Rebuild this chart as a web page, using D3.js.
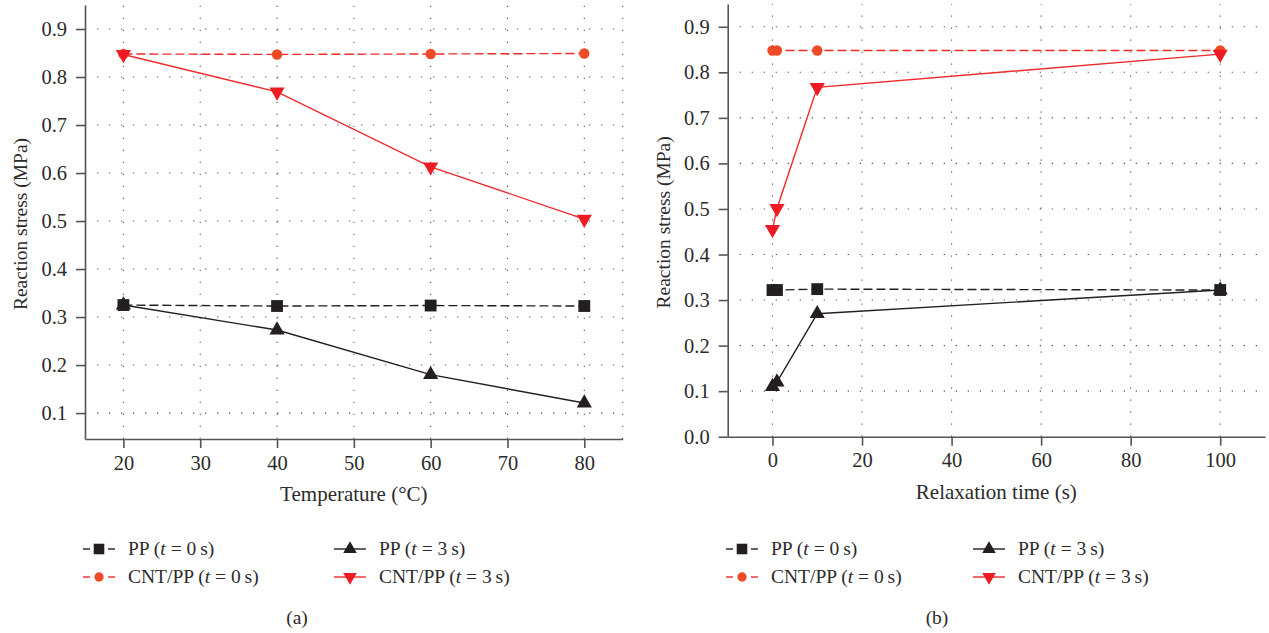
<!DOCTYPE html>
<html>
<head>
<meta charset="utf-8">
<script src="https://cdn.jsdelivr.net/npm/d3@7"></script>
<style>
  html, body { margin: 0; padding: 0; background: #fff; }
  svg { display: block; }
</style>
</head>
<body>
<svg id="chart" width="1269" height="633"></svg>
<script>
// Panel (a): reaction stress vs temperature
const tempC = [20, 40, 60, 80];
const aPP0 = [0.325, 0.323, 0.324, 0.323];
const aPP3 = [0.325, 0.273, 0.180, 0.121];
const aCNT0 = [0.848, 0.847, 0.848, 0.849];
const aCNT3 = [0.847, 0.769, 0.613, 0.504];
const aXTicks = [20, 30, 40, 50, 60, 70, 80];
const aYTicks = [0.1, 0.2, 0.3, 0.4, 0.5, 0.6, 0.7, 0.8, 0.9];

// Panel (b): reaction stress vs relaxation time
const relaxTime = [0, 1, 10, 100];
const bPP0 = [0.322, 0.322, 0.324, 0.322];
const bPP3 = [0.110, 0.120, 0.270, 0.322];
const bCNT0 = [0.848, 0.848, 0.848, 0.848];
const bCNT3 = [0.455, 0.501, 0.767, 0.840];
const bXTicks = [0, 20, 40, 60, 80, 100];
const bYTicks = [0.0, 0.1, 0.2, 0.3, 0.4, 0.5, 0.6, 0.7, 0.8, 0.9];

const seriesNames = ["PP", "PP", "CNT/PP", "CNT/PP"];
const seriesTimes = ["0", "3", "0", "3"];

const FONT = "'Liberation Serif', 'Times New Roman', serif";
const INK = "#2b2b2b";
const BLACK = "#231f20";
const RED = "#ee2a2b";
const ORANGE = "#ef4a26";

const svg = d3.select("#chart");

function styles() {
  return [
    { stroke: BLACK, dash: "9,4", symbol: d3.symbolSquare, size: 140, fill: BLACK },
    { stroke: BLACK, dash: null, symbol: d3.symbolTriangle, size: 100, fill: BLACK },
    { stroke: RED, dash: "9,4", symbol: d3.symbolCircle, size: 85, fill: ORANGE },
    { stroke: RED, dash: null, symbol: d3.symbolTriangle, size: 100, fill: "#ed1c24", flip: true }
  ];
}

function label(sel, size) {
  return sel.style("font-family", FONT).style("font-size", (size || 19) + "px").style("fill", INK);
}

function drawPanel(cfg) {
  const g = svg.append("g");
  const x = d3.scaleLinear().domain(cfg.xDomain).range([cfg.left, cfg.right]);
  const y = d3.scaleLinear().domain(cfg.yDomain).range([cfg.bottom, cfg.top]);

  // dotted grid
  const grid = g.append("g").attr("stroke", "#555").attr("stroke-width", 1.1)
    .attr("stroke-dasharray", "1.3,10.7");
  grid.selectAll(".h").data(cfg.yTicks.filter(v => v > cfg.yDomain[0])).join("line")
    .attr("x1", cfg.left).attr("x2", cfg.gridRight)
    .attr("y1", d => y(d)).attr("y2", d => y(d));
  const vLines = cfg.xTicks.slice();
  if (cfg.rightGrid) vLines.push(cfg.xDomain[1]);
  grid.selectAll(".v").data(vLines).join("line")
    .attr("x1", d => x(d)).attr("x2", d => x(d))
    .attr("y1", cfg.bottom).attr("y2", cfg.top);

  // axes
  const xAxis = g.append("g").attr("transform", `translate(0,${cfg.bottom})`)
    .call(d3.axisBottom(x).tickValues(cfg.xTicks).tickSize(9).tickSizeOuter(0).tickPadding(7));
  const yAxis = g.append("g").attr("transform", `translate(${cfg.left},0)`)
    .call(d3.axisLeft(y).tickValues(cfg.yTicks).tickFormat(d3.format(".1f")).tickSize(9).tickSizeOuter(0).tickPadding(9));
  [xAxis, yAxis].forEach(ax => {
    ax.select(".domain").attr("stroke", "#555").attr("stroke-width", 1.6);
    ax.selectAll(".tick line").attr("stroke", "#555").attr("stroke-width", 1.6);
    label(ax.selectAll(".tick text"), 20.5);
  });

  // axis titles
  label(g.append("text").attr("x", (cfg.left + cfg.right) / 2).attr("y", cfg.bottom + 62)
    .attr("text-anchor", "middle").text(cfg.xLabel), 21);
  label(g.append("text").attr("transform", `translate(${cfg.left - 58},${(cfg.top + cfg.bottom) / 2 + 2}) rotate(-90)`)
    .attr("text-anchor", "middle").text("Reaction stress (MPa)"), 19.5);

  // series
  const st = styles();
  const line = d3.line().x(d => x(d[0])).y(d => y(d[1]));
  cfg.series.forEach((vals, i) => {
    const pts = cfg.xs.map((xv, j) => [xv, vals[j]]);
    const s = st[i];
    g.append("path").datum(pts).attr("d", line)
      .attr("fill", "none").attr("stroke", s.stroke).attr("stroke-width", 1.4)
      .attr("stroke-dasharray", s.dash);
  });
  // markers drawn after lines; order: circles, squares, up triangles, down triangles
  [2, 0, 1, 3].forEach(i => {
    const s = st[i];
    const vals = cfg.series[i];
    g.append("g").selectAll("path").data(cfg.xs.map((xv, j) => [xv, vals[j]])).join("path")
      .attr("d", d3.symbol().type(s.symbol).size(s.size))
      .attr("transform", d => `translate(${x(d[0])},${y(d[1])})${s.flip ? " rotate(180)" : ""}`)
      .attr("fill", s.fill);
  });

  // legend
  const lg = g.append("g");
  const rows = [cfg.legendY1, cfg.legendY1, cfg.legendY2, cfg.legendY2];
  const cols = [cfg.legendX1, cfg.legendX2, cfg.legendX1, cfg.legendX2];
  st.forEach((s, i) => {
    const x0 = cols[i], y0 = rows[i];
    if (s.dash) {
      lg.append("line").attr("x1", x0).attr("x2", x0 + 7).attr("y1", y0).attr("y2", y0)
        .attr("stroke", s.stroke).attr("stroke-width", 1.4);
      lg.append("line").attr("x1", x0 + 25).attr("x2", x0 + 32).attr("y1", y0).attr("y2", y0)
        .attr("stroke", s.stroke).attr("stroke-width", 1.4);
    } else {
      lg.append("line").attr("x1", x0).attr("x2", x0 + 32).attr("y1", y0).attr("y2", y0)
        .attr("stroke", s.stroke).attr("stroke-width", 1.4);
    }
    lg.append("path").attr("d", d3.symbol().type(s.symbol).size(s.size * 0.8))
      .attr("transform", `translate(${x0 + 16},${y0})${s.flip ? " rotate(180)" : ""}`)
      .attr("fill", s.fill);
    const t = label(lg.append("text").attr("x", x0 + 45).attr("y", y0 + 6), 19.5);
    t.append("tspan").text(seriesNames[i] + " (");
    t.append("tspan").style("font-style", "italic").text("t");
    t.append("tspan").text(" = " + seriesTimes[i] + "\u2009s)");
  });

  label(g.append("text").attr("x", cfg.captionX).attr("y", 624).attr("text-anchor", "middle")
    .text(cfg.caption), 19.5);
}

drawPanel({
  xDomain: [15, 85], yDomain: [0.046, 0.95],
  left: 85, right: 622.7, gridRight: 622.7, top: 5, bottom: 439,
  xTicks: aXTicks, yTicks: aYTicks, rightGrid: true,
  xs: tempC, series: [aPP0, aPP3, aCNT0, aCNT3],
  xLabel: "Temperature (°C)",
  legendX1: 83, legendX2: 334, legendY1: 549, legendY2: 577,
  caption: "(a)", captionX: 297
});

drawPanel({
  xDomain: [-10, 110], yDomain: [0, 0.95],
  left: 727.7, right: 1265, gridRight: 1258, top: 4, bottom: 436.7,
  xTicks: bXTicks, yTicks: bYTicks, rightGrid: false,
  xs: relaxTime, series: [bPP0, bPP3, bCNT0, bCNT3],
  xLabel: "Relaxation time (s)",
  legendX1: 726, legendX2: 973, legendY1: 549, legendY2: 577,
  caption: "(b)", captionX: 937
});
</script>
</body>
</html>
